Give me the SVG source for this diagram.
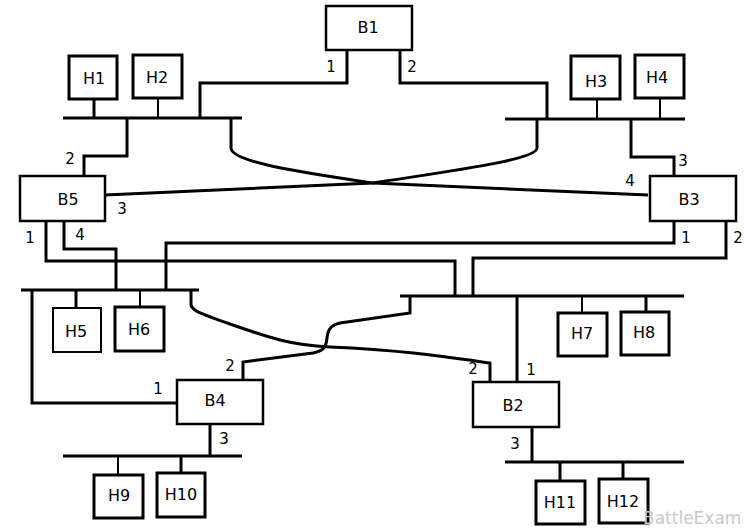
<svg xmlns="http://www.w3.org/2000/svg" width="746" height="529" viewBox="0 0 746 529">
<style>
.bg{fill:#fff}
.box{fill:#fff;stroke:#000;stroke-width:3}
.br{fill:#fff;stroke:#000;stroke-width:2.5}
.ln{fill:none;stroke:#000;stroke-width:3;stroke-linejoin:miter}
.tn{fill:none;stroke:#000;stroke-width:2}
.lbl{font-family:"DejaVu Sans",Verdana,sans-serif;font-size:16px;fill:#000;text-anchor:middle;dominant-baseline:central}
.port{font-family:"DejaVu Sans",Verdana,sans-serif;font-size:15px;fill:#000;text-anchor:middle;dominant-baseline:central}
.wm{font-family:"DejaVu Sans",Verdana,sans-serif;font-size:17px;fill:#c8c8c8}
</style>
<rect class="bg" x="0" y="0" width="746" height="529"/>
<g id="connectors">
  <!-- buses -->
  <path class="ln" d="M63 118 H242"/>
  <path class="ln" d="M505 119 H685"/>
  <path class="ln" d="M21 290 H199"/>
  <path class="ln" d="M400 296 H684"/>
  <path class="ln" d="M63 456 H242"/>
  <path class="ln" d="M505 462 H684"/>
  <!-- host drops -->
  <path class="ln" d="M94 99 V118"/>
  <path class="tn" d="M158 98 V118"/>
  <path class="tn" d="M597 99 V119"/>
  <path class="tn" d="M660 98 V119"/>
  <path class="ln" d="M76 290 V308"/>
  <path class="tn" d="M140 290 V307"/>
  <path class="tn" d="M582 296 V313"/>
  <path class="ln" d="M646 296 V312"/>
  <path class="tn" d="M118 456 V475"/>
  <path class="ln" d="M181 456 V473"/>
  <path class="ln" d="M560 462 V481"/>
  <path class="ln" d="M623 462 V479"/>
  <!-- B1 -->
  <path class="ln" d="M347 50 V83 H200 V118"/>
  <path class="ln" d="M400 50 V83 H547 V119"/>
  <!-- B5 -->
  <path class="ln" d="M127 118 V156 H84 V176"/>
  <path class="ln" d="M46 221 V261 H455 V296"/>
  <path class="ln" d="M64 221 V249 H116 V290"/>
  <!-- crossing between top buses / B5 / B3 -->
  <path class="ln" d="M231 118 V148 C231 162 300 172 373 183 L648 195"/>
  <path class="ln" d="M537 119 V148 C537 160 450 171 373 183 L105 195"/>
  <!-- B3 -->
  <path class="ln" d="M631 119 V157 H674 V176"/>
  <path class="ln" d="M674 221 V243 H166 V290"/>
  <path class="ln" d="M726 221 V258 H473 V296"/>
  <!-- B4 -->
  <path class="ln" d="M32 290 V403 H177"/>
  <path class="ln" d="M243 380 V362 L313 353 C322 351 326 349 327 338 C328 328 332 325 340 323 L410 313 V296"/>
  <path class="ln" d="M210 424 V456"/>
  <!-- B2 -->
  <path class="ln" d="M191 290 V305 C193 312 205 315 230 324 C270 338 290 345 330 347 C400 350 440 356 490 363 V382"/>
  <path class="ln" d="M517 296 V382"/>
  <path class="ln" d="M532 427 V462"/>
</g>
<g id="B1"><rect class="br" x="326" y="6" width="86" height="44"/><text class="lbl" x="368" y="27">B1</text></g>
<g id="B5"><rect class="br" x="20" y="176" width="85" height="45"/><text class="lbl" x="68" y="199">B5</text></g>
<g id="B3"><rect class="br" x="650" y="176" width="86" height="45"/><text class="lbl" x="689" y="199">B3</text></g>
<g id="B4"><rect class="br" x="177" y="380" width="86" height="44"/><text class="lbl" x="215" y="400">B4</text></g>
<g id="B2"><rect class="br" x="473" y="382" width="86" height="45"/><text class="lbl" x="513" y="405">B2</text></g>
<g id="H1"><rect class="box" x="69" y="56" width="48" height="43"/><text class="lbl" x="94" y="78">H1</text></g>
<g id="H2"><rect class="box" x="133" y="55" width="49" height="43"/><text class="lbl" x="157" y="77">H2</text></g>
<g id="H3"><rect class="box" x="571" y="56" width="49" height="43"/><text class="lbl" x="596" y="81">H3</text></g>
<g id="H4"><rect class="box" x="635" y="55" width="49" height="43"/><text class="lbl" x="657" y="77">H4</text></g>
<g id="H5"><rect class="tn" x="53" y="308" width="48" height="44"/><text class="lbl" x="76" y="331">H5</text></g>
<g id="H6"><rect class="box" x="115" y="307" width="49" height="44"/><text class="lbl" x="139" y="329">H6</text></g>
<g id="H7"><rect class="box" x="558" y="313" width="49" height="43"/><text class="lbl" x="582" y="333">H7</text></g>
<g id="H8"><rect class="box" x="621" y="312" width="48" height="43"/><text class="lbl" x="644" y="332">H8</text></g>
<g id="H9"><rect class="box" x="94" y="475" width="49" height="43"/><text class="lbl" x="119" y="495">H9</text></g>
<g id="H10"><rect class="box" x="157" y="473" width="48" height="44"/><text class="lbl" x="181" y="494">H10</text></g>
<g id="H11"><rect class="box" x="536" y="481" width="49" height="43"/><text class="lbl" x="560" y="502">H11</text></g>
<g id="H12"><rect class="box" x="599" y="479" width="49" height="44"/><text class="lbl" x="623" y="501">H12</text></g>
<g id="ports">
  <text class="port" x="331" y="67">1</text>
  <text class="port" x="412" y="67">2</text>
  <text class="port" x="70" y="159">2</text>
  <text class="port" x="122" y="209">3</text>
  <text class="port" x="30" y="238">1</text>
  <text class="port" x="80" y="235">4</text>
  <text class="port" x="683" y="161">3</text>
  <text class="port" x="630" y="181">4</text>
  <text class="port" x="686" y="238">1</text>
  <text class="port" x="738" y="238">2</text>
  <text class="port" x="158" y="389">1</text>
  <text class="port" x="230" y="366">2</text>
  <text class="port" x="224" y="439">3</text>
  <text class="port" x="473" y="369">2</text>
  <text class="port" x="531" y="370">1</text>
  <text class="port" x="515" y="444">3</text>
</g>
<text class="wm" x="643" y="524">BattleExam</text>
</svg>
